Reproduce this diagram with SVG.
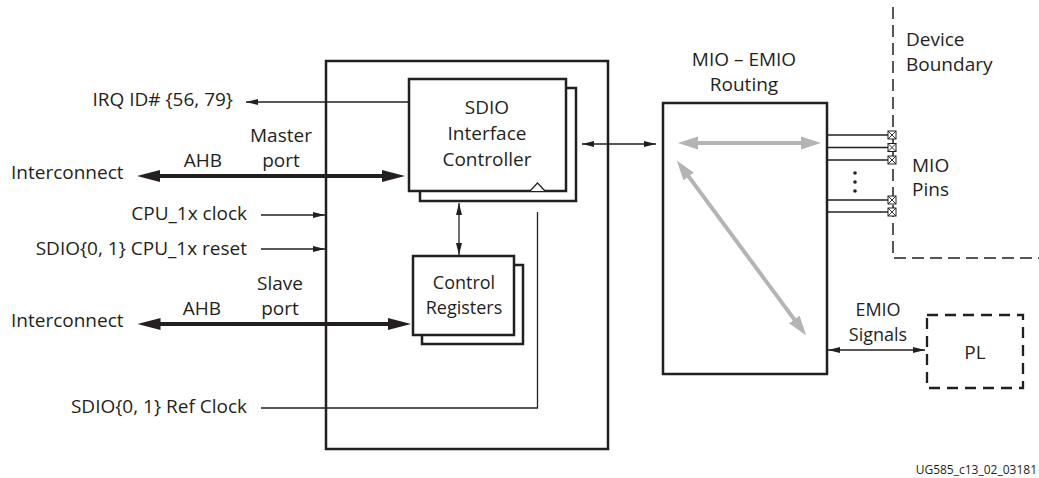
<svg xmlns="http://www.w3.org/2000/svg" width="1039" height="478" viewBox="0 0 1039 478">
<style>
text{font-family:"Open Sans","Liberation Sans",sans-serif;font-size:19px;fill:#231f20}
.sm{font-size:18px}
.box{fill:#fff;stroke:#231f20;stroke-width:2.5}
.thin{fill:none;stroke:#231f20;stroke-width:1.3}
.thick{fill:none;stroke:#231f20;stroke-width:4}
.gray{fill:none;stroke:#b3b4b6;stroke-width:4}
.dash{fill:none;stroke:#231f20;stroke-width:1.5;stroke-dasharray:12 6}
.pldash{fill:none;stroke:#231f20;stroke-width:2.3;stroke-dasharray:11 7}
.mid{text-anchor:middle}
.end{text-anchor:end}
</style>
<defs>
<marker id="a" markerUnits="userSpaceOnUse" markerWidth="13" markerHeight="7" refX="12" refY="3" orient="auto-start-reverse" viewBox="0 0 13 6"><path d="M0,0 L12,3 L0,6 z" fill="#231f20"/></marker>
<marker id="A" markerUnits="userSpaceOnUse" markerWidth="24" markerHeight="13" refX="3" refY="6" orient="auto-start-reverse" viewBox="0 0 24 12"><path d="M0,0 L23,6 L0,12 z" fill="#231f20"/></marker>
<marker id="G" markerUnits="userSpaceOnUse" markerWidth="21" markerHeight="14" refX="3" refY="6.5" orient="auto-start-reverse" viewBox="0 0 21 13"><path d="M0,0 L20,6.5 L0,13 z" fill="#b3b4b6"/></marker>
<g id="pin"><rect x="-4" y="-4" width="8" height="8" fill="#fff" stroke="#231f20" stroke-width="1"/><path d="M-4,-4 L4,4 M4,-4 L-4,4" stroke="#231f20" stroke-width="0.9"/></g>
</defs>

<g id="main-block"><rect class="box" x="326" y="61" width="282" height="388"/></g>

<g id="sdio-controller">
<rect class="box" x="420" y="88" width="156" height="113"/>
<rect class="box" x="409" y="79" width="157" height="112"/>
<polyline points="530,191 537.5,183 545,191" fill="#fff" stroke="#231f20" stroke-width="1.2"/>
<text class="mid" x="487" y="114">SDIO</text>
<text class="mid" x="487" y="140">Interface</text>
<text class="mid" x="487" y="166">Controller</text>
</g>

<g id="control-registers">
<rect class="box" x="422" y="265" width="101" height="79"/>
<rect class="box" x="413" y="256" width="101" height="79"/>
<text class="mid sm" x="464" y="289">Control</text>
<text class="mid sm" x="464" y="314">Registers</text>
</g>

<g id="mio-emio-routing">
<rect class="box" x="663" y="103" width="164" height="271"/>
<text class="mid" x="744" y="66">MIO – EMIO</text>
<text class="mid" x="744" y="91">Routing</text>
<line class="gray" x1="695" y1="143" x2="804" y2="143" marker-start="url(#G)" marker-end="url(#G)"/>
<line class="gray" x1="686.9" y1="174.1" x2="796.1" y2="321.9" marker-start="url(#G)" marker-end="url(#G)"/>
</g>

<g id="pl">
<rect class="pldash" x="927" y="315" width="96" height="73"/>
<text class="mid" x="975" y="359">PL</text>
</g>

<g id="device-boundary">
<polyline class="dash" points="893,7 893,258 1039,258"/>
<text x="906" y="46">Device</text>
<text x="906" y="71">Boundary</text>
</g>

<g id="mio-pins">
<line class="thin" x1="827" y1="135" x2="888" y2="135"/>
<line class="thin" x1="827" y1="147.5" x2="888" y2="147.5"/>
<line class="thin" x1="827" y1="160" x2="888" y2="160"/>
<line class="thin" x1="827" y1="200" x2="888" y2="200"/>
<line class="thin" x1="827" y1="212" x2="888" y2="212"/>
<use href="#pin" x="892" y="135"/>
<use href="#pin" x="892" y="147.5"/>
<use href="#pin" x="892" y="160"/>
<use href="#pin" x="892" y="200"/>
<use href="#pin" x="892" y="212"/>
<circle cx="855" cy="173" r="1.8" fill="#231f20"/>
<circle cx="855" cy="182" r="1.8" fill="#231f20"/>
<circle cx="855" cy="191" r="1.8" fill="#231f20"/>
<text x="912" y="172">MIO</text>
<text x="912" y="196">Pins</text>
</g>

<g id="labels">
<text class="end" x="233" y="106">IRQ ID# {56, 79}</text>
<text x="11" y="179">Interconnect</text>
<text class="mid" x="203" y="167">AHB</text>
<text class="mid" x="281" y="142">Master</text>
<text class="mid" x="281" y="167">port</text>
<text class="end" x="247" y="220">CPU_1x clock</text>
<text class="end" x="247" y="255">SDIO{0, 1} CPU_1x reset</text>
<text x="11" y="327">Interconnect</text>
<text class="mid" x="202" y="315">AHB</text>
<text class="mid" x="280" y="290">Slave</text>
<text class="mid" x="280" y="315">port</text>
<text class="end" x="247" y="413">SDIO{0, 1} Ref Clock</text>
<text class="mid sm" x="878" y="316">EMIO</text>
<text class="mid sm" x="878" y="341">Signals</text>
<text class="end" x="1037" y="474" style="font-size:12px">UG585_c13_02_03181</text>
</g>

<g id="connectors">
<line class="thin" x1="409" y1="102" x2="246" y2="102" marker-end="url(#a)"/>
<line class="thick" x1="157" y1="176" x2="385" y2="176" marker-start="url(#A)" marker-end="url(#A)"/>
<line class="thick" x1="157.5" y1="324" x2="391" y2="324" marker-start="url(#A)" marker-end="url(#A)"/>
<line class="thin" x1="261" y1="215" x2="325" y2="215" marker-end="url(#a)"/>
<line class="thin" x1="261" y1="249" x2="325" y2="249" marker-end="url(#a)"/>
<polyline class="thin" points="261,408 537.5,408 537.5,212"/>
<line class="thin" x1="459" y1="203" x2="459" y2="255" marker-start="url(#a)" marker-end="url(#a)"/>
<line class="thin" x1="582" y1="144" x2="656" y2="144" marker-start="url(#a)" marker-end="url(#a)"/>
<line class="thin" x1="828" y1="350" x2="925" y2="350" marker-start="url(#a)" marker-end="url(#a)"/>
</g>
</svg>
